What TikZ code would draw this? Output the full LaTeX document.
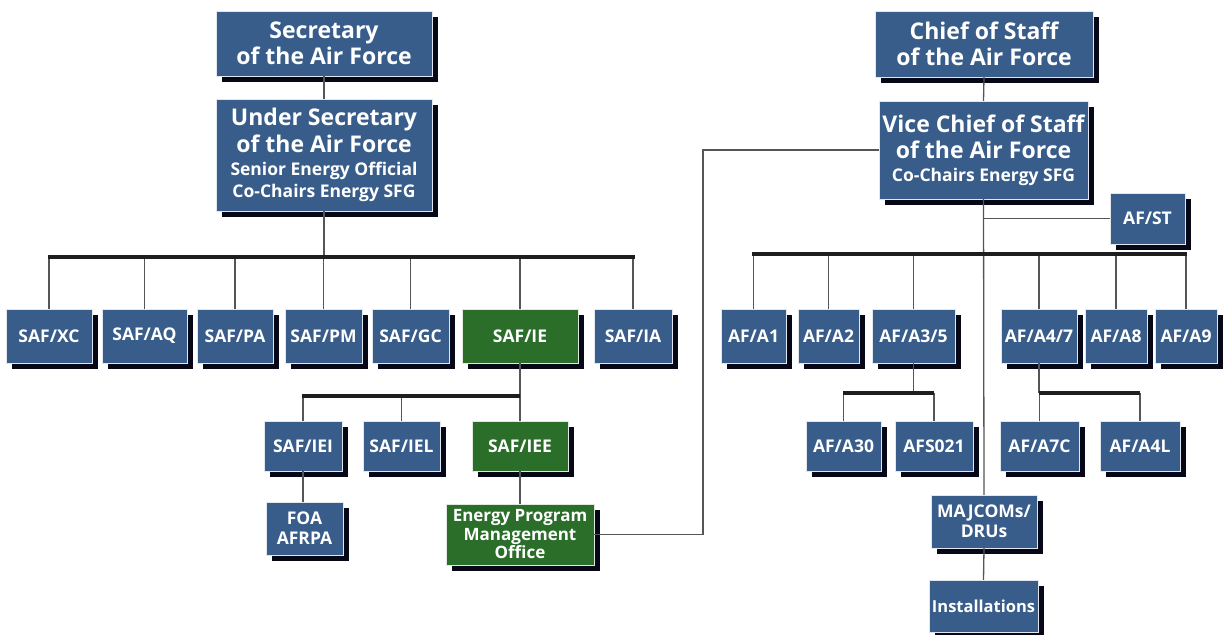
\documentclass[tikz,border=0pt]{standalone}
\usepackage{fontspec}
\setmainfont{Open Sans}
\usetikzlibrary{shadows}
\definecolor{ablue}{RGB}{56,93,138}
\definecolor{agreen}{RGB}{42,110,42}
\definecolor{shad}{RGB}{6,8,24}
\definecolor{conn}{RGB}{85,85,85}
\definecolor{busc}{RGB}{30,30,30}
\newcommand{\tfont}{\fontsize{23}{26.5}\selectfont\bfseries}
\newcommand{\sfontx}{\fontsize{17.5}{20}\selectfont\bfseries}
\newcommand{\lfont}{\fontsize{17.5}{22}\selectfont\bfseries}
\tikzset{
  orgbox/.style={fill=ablue, text=white, inner sep=0pt, align=center,
    draw=white!85!ablue, line width=0.4pt,
    drop shadow={shadow xshift=6pt, shadow yshift=-6pt, fill=shad, opacity=1}},
  greenbox/.style={orgbox, fill=agreen, draw=white!85!agreen},
  lbl/.style={font=\lfont},
  ttl/.style={font=\tfont},
  link/.style={draw=conn, line width=1.3pt},
  bus/.style={draw=busc, line width=4pt},
}
\begin{document}
\begin{tikzpicture}[x=1pt,y=-1pt]
\useasboundingbox (0,0) rectangle (1225,634);
% ---- left side
\node[orgbox, ttl, minimum width=216, minimum height=65] (sec) at (324,43.5)
  {Secretary\\of the Air Force};
\node[orgbox, ttl, minimum width=216, minimum height=112] (usec) at (324,155)
  {Under Secretary\\of the Air Force\\[-3pt]{\sfontx Senior Energy Official}\\[-5pt]{\sfontx Co-Chairs Energy SFG}};
\node[orgbox, lbl, minimum width=86, minimum height=54] (xc) at (49,336) {SAF/XC};
\node[orgbox, lbl, minimum width=85, minimum height=54] (aq) at (144.5,336) {SAF/AQ};
\node[orgbox, lbl, minimum width=76, minimum height=54] (pa) at (235,336) {SAF/PA};
\node[orgbox, lbl, minimum width=77, minimum height=54] (pm) at (323.5,336) {SAF/PM};
\node[orgbox, lbl, minimum width=77, minimum height=54] (gc) at (410.5,336) {SAF/GC};
\node[greenbox, lbl, minimum width=116, minimum height=54] (ie) at (520,336) {SAF/IE};
\node[orgbox, lbl, minimum width=78, minimum height=54] (ia) at (633,336) {SAF/IA};
\node[orgbox, lbl, minimum width=78, minimum height=50] (iei) at (303,446) {SAF/IEI};
\node[orgbox, lbl, minimum width=77, minimum height=50] (iel) at (401.5,446) {SAF/IEL};
\node[greenbox, lbl, minimum width=96, minimum height=50] (iee) at (520,446) {SAF/IEE};
\node[orgbox, lbl, minimum width=77, minimum height=53] (foa) at (304.5,528.5) {FOA\\[-2pt]AFRPA};
\node[greenbox, font=\fontsize{17}{18.5}\selectfont\bfseries, minimum width=148, minimum height=61] (epmo) at (520,534.5)
  {Energy Program\\Management\\Office};
% ---- right side
\node[orgbox, ttl, minimum width=218, minimum height=66] (chief) at (984,44)
  {Chief of Staff\\of the Air Force};
\node[orgbox, ttl, minimum width=209, minimum height=98] (vice) at (983.5,150)
  {Vice Chief of Staff\\of the Air Force\\[-4pt]{\sfontx Co-Chairs Energy SFG}};
\node[orgbox, lbl, minimum width=75, minimum height=51] (st) at (1147.5,218.5) {AF/ST};
\node[orgbox, lbl, minimum width=65, minimum height=54] (a1) at (753.5,336) {AF/A1};
\node[orgbox, lbl, minimum width=61, minimum height=54] (a2) at (828.5,336) {AF/A2};
\node[orgbox, lbl, minimum width=83, minimum height=54] (a35) at (913.5,336) {AF/A3/5};
\node[orgbox, lbl, minimum width=76, minimum height=54] (a47) at (1039,336) {AF/A4/7};
\node[orgbox, lbl, minimum width=62, minimum height=54] (a8) at (1116,336) {AF/A8};
\node[orgbox, lbl, minimum width=62, minimum height=54] (a9) at (1186,336) {AF/A9};
\node[orgbox, lbl, minimum width=75, minimum height=50] (a30) at (843.5,446) {AF/A30};
\node[orgbox, lbl, minimum width=78, minimum height=50] (afs) at (934,446) {AFS021};
\node[orgbox, lbl, minimum width=79, minimum height=50] (a7c) at (1039.5,446) {AF/A7C};
\node[orgbox, lbl, minimum width=80, minimum height=50] (a4l) at (1140,446) {AF/A4L};
\node[orgbox, lbl, minimum width=106, minimum height=53] (maj) at (984,521.5) {MAJCOMs/\\[-2pt]DRUs};
\node[orgbox, font=\fontsize{16.5}{20}\selectfont\bfseries, minimum width=109, minimum height=52] (inst) at (983.5,606) {Installations};
% ---- bus coordinates
\coordinate (lbl) at (48,257);
\coordinate (lbr) at (635,257);
\coordinate (sbl) at (302,396);
\coordinate (rbl) at (752,254);
\coordinate (rbr) at (1187,254);
\coordinate (a35b) at (843,393);
\coordinate (a47b) at (1039,393);
\coordinate (cj) at (703,300);
% ---- connectors
\draw[link] (sec.south) -- (usec.north);
\draw[link] (usec.south) -- (usec.south |- lbl);
\foreach \n in {xc,aq,pa,pm,gc,ie,ia} \draw[link] (\n.north) -- (\n.north |- lbl);
\draw[bus] (lbl) -- (lbr);
\draw[link] (ie.south) -- (iee.north);
\foreach \n in {iei,iel} \draw[link] (\n.north) -- (\n.north |- sbl);
\draw[bus] (sbl) -- (sbl -| ie.south);
\draw[link] (iei.south) -- (iei.south |- foa.north);
\draw[link] (iee.south) -- (epmo.north);
\draw[link] (epmo.east) -| (cj) |- (vice.west);
\draw[link] (chief.south) -- (vice.north);
\draw[link] (vice.south) -- (maj.north);
\draw[link] (vice.south |- st.west) -- (st.west);
\foreach \n in {a1,a2,a35,a47,a8,a9} \draw[link] (\n.north) -- (\n.north |- rbl);
\draw[bus] (rbl) -- (rbr);
\draw[link] (a35.south) -- (a35.south |- a35b);
\foreach \n in {a30,afs} \draw[link] (\n.north) -- (\n.north |- a35b);
\draw[bus] (a35b) -- (a35b -| afs.north);
\draw[link] (a47.south) -- (a47b);
\foreach \n in {a7c,a4l} \draw[link] (\n.north) -- (\n.north |- a47b);
\draw[bus] (a47b) -- (a47b -| a4l.north);
\draw[link] (maj.south) -- (inst.north);
\end{tikzpicture}
\end{document}
